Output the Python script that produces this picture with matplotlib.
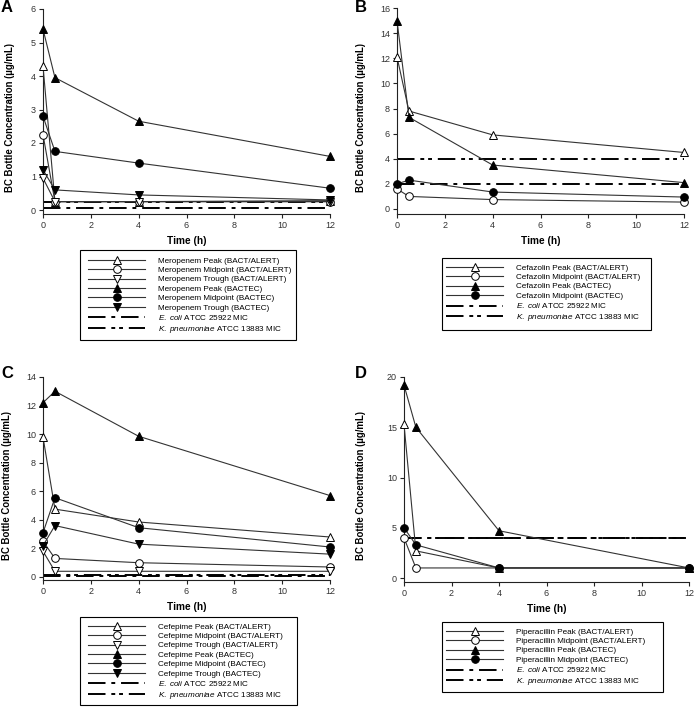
import matplotlib
matplotlib.use("Agg")
import matplotlib.pyplot as plt
from matplotlib.patches import Rectangle

plt.rcParams['font.family'] = ['Liberation Sans', 'DejaVu Sans']
plt.rcParams['mathtext.fontset'] = 'custom'
plt.rcParams['mathtext.it'] = 'Liberation Sans:italic'
plt.rcParams['mathtext.rm'] = 'Liberation Sans'

time = [0, 0.5, 4, 12]

# Panel A: Meropenem
mero_peak_ba = [4.3, 0.25, 0.25, 0.28]
mero_mid_ba = [2.25, 0.25, 0.25, 0.25]
mero_trough_ba = [0.95, 0.25, 0.25, 0.25]
mero_peak_bt = [5.4, 3.95, 2.65, 1.6]
mero_mid_bt = [2.8, 1.75, 1.4, 0.65]
mero_trough_bt = [1.2, 0.6, 0.45, 0.3]
mero_mic_ecoli = 0.06
mero_mic_kpn = 0.25

# Panel B: Cefazolin
cefa_peak_ba = [12.1, 7.8, 5.9, 4.5]
cefa_mid_ba = [1.6, 1.0, 0.75, 0.55]
cefa_peak_bt = [15.0, 7.3, 3.5, 2.1]
cefa_mid_bt = [2.0, 2.3, 1.35, 0.95]
cefa_mic_ecoli = 2
cefa_mic_kpn = 4

# Panel C: Cefepime
cefe_peak_ba = [9.8, 4.75, 3.85, 2.8]
cefe_mid_ba = [2.5, 1.3, 1.0, 0.7]
cefe_trough_ba = [1.8, 0.4, 0.4, 0.4]
cefe_peak_bt = [12.2, 13.0, 9.85, 5.7]
cefe_mid_bt = [3.1, 5.55, 3.45, 2.1]
cefe_trough_bt = [2.2, 3.6, 2.3, 1.6]
cefe_mic_ecoli = 0.06
cefe_mic_kpn = 0.125

# Panel D: Piperacillin
pip_peak_ba = [15.3, 2.7, 1.0, 1.0]
pip_mid_ba = [4.0, 1.0, 1.0, 1.0]
pip_peak_bt = [19.2, 15.0, 4.7, 1.0]
pip_mid_bt = [5.0, 3.3, 1.0, 1.0]
pip_mic_ecoli = 4
pip_mic_kpn = 4

ECOLI_LABEL = r'$\it{E.\ coli}$ ATCC 25922 MIC'
KPN_LABEL = r'$\it{K.\ pneumoniae}$ ATCC 13883 MIC'

W, H = 696, 724
fig = plt.figure(figsize=(W / 100, H / 100), dpi=100)


def make_ax(x0, x1, ytop_px, yzero_px, yspine_px, ymax, yticks, ylab_x_px, ylab_y_px):
    ax = fig.add_axes([x0 / W, 1 - yspine_px / H, (x1 - x0) / W, (yspine_px - ytop_px) / H])
    ppu = (yzero_px - ytop_px) / ymax
    lo = -(yspine_px - yzero_px) / ppu
    ax.set_xlim(0, 12)
    ax.set_ylim(lo, ymax)
    ax.spines['top'].set_visible(False)
    ax.spines['right'].set_visible(False)
    for s in ('left', 'bottom'):
        ax.spines[s].set_linewidth(0.8)
        ax.spines[s].set_color('#222222')
    ax.set_xticks([0, 2, 4, 6, 8, 10, 12])
    ax.set_yticks(yticks)
    ax.tick_params(direction='out', length=3, width=0.8, labelsize=6.5,
                   colors='#222222', labelcolor='#333333', pad=2)
    ax.set_xlabel('Time (h)', fontsize=7.3, fontweight='bold', labelpad=4)
    ax.set_ylabel('BC Bottle Concentration (µg/mL)', fontsize=6.9, fontweight='bold')
    # label anchor is the right side of the rotated text
    ax.yaxis.set_label_coords((ylab_x_px + 4.5 - x0) / (x1 - x0),
                              (yspine_px - ylab_y_px) / (yspine_px - ytop_px))
    return ax


series_style = dict(color='#333333', lw=0.8, markersize=5.5, markeredgewidth=0.7,
                    markeredgecolor='black', clip_on=False, zorder=3)


def plot_series(ax, y, marker, filled, label):
    ax.plot(time, y, marker=marker, markerfacecolor='black' if filled else 'white',
            label=label, **series_style)


def mic_lines(ax, ecoli, kpn):
    ax.axhline(ecoli, color='black', lw=1.4, dashes=(9, 3, 2, 3), label=ECOLI_LABEL, zorder=2)
    ax.axhline(kpn, color='black', lw=1.4, dashes=(9, 3, 2, 2, 2, 3), label=KPN_LABEL, zorder=2)


LEG_FS = 5.9


def add_legend(ax, box, first_row_top_px, handle_x_px):
    h, l = ax.get_legend_handles_labels()
    fig.legend(h, l, loc='upper left',
               bbox_to_anchor=(handle_x_px / W, 1 - first_row_top_px / H),
               fontsize=LEG_FS, frameon=False,
               handlelength=7.0, handletextpad=1.5, labelspacing=0.2,
               borderpad=0, borderaxespad=0)
    bx0, by0, bx1, by1 = box
    fig.patches.append(Rectangle((bx0 / W, 1 - by1 / H), (bx1 - bx0) / W, (by1 - by0) / H,
                                 transform=fig.transFigure, fill=False,
                                 edgecolor='black', lw=0.8))


# Panel A
axA = make_ax(43, 330, 9, 210, 214, 6, [0, 1, 2, 3, 4, 5, 6], 11, 117)
plot_series(axA, mero_peak_ba, '^', False, 'Meropenem Peak (BACT/ALERT)')
plot_series(axA, mero_mid_ba, 'o', False, 'Meropenem Midpoint (BACT/ALERT)')
plot_series(axA, mero_trough_ba, 'v', False, 'Meropenem Trough (BACT/ALERT)')
plot_series(axA, mero_peak_bt, '^', True, 'Meropenem Peak (BACTEC)')
plot_series(axA, mero_mid_bt, 'o', True, 'Meropenem Midpoint (BACTEC)')
plot_series(axA, mero_trough_bt, 'v', True, 'Meropenem Trough (BACTEC)')
mic_lines(axA, mero_mic_ecoli, mero_mic_kpn)
add_legend(axA, (80, 250, 296, 340), 257, 88)

# Panel B
axB = make_ax(397, 684, 8, 209, 214, 16, [0, 2, 4, 6, 8, 10, 12, 14, 16], 362, 117)
plot_series(axB, cefa_peak_ba, '^', False, 'Cefazolin Peak (BACT/ALERT)')
plot_series(axB, cefa_mid_ba, 'o', False, 'Cefazolin Midpoint (BACT/ALERT)')
plot_series(axB, cefa_peak_bt, '^', True, 'Cefazolin Peak (BACTEC)')
plot_series(axB, cefa_mid_bt, 'o', True, 'Cefazolin Midpoint (BACTEC)')
mic_lines(axB, cefa_mic_ecoli, cefa_mic_kpn)
add_legend(axB, (442, 258, 651, 330), 264, 446)

# Panel C
axC = make_ax(43, 330, 377, 577, 580, 14, [0, 2, 4, 6, 8, 10, 12, 14], 8, 485)
plot_series(axC, cefe_peak_ba, '^', False, 'Cefepime Peak (BACT/ALERT)')
plot_series(axC, cefe_mid_ba, 'o', False, 'Cefepime Midpoint (BACT/ALERT)')
plot_series(axC, cefe_trough_ba, 'v', False, 'Cefepime Trough (BACT/ALERT)')
plot_series(axC, cefe_peak_bt, '^', True, 'Cefepime Peak (BACTEC)')
plot_series(axC, cefe_mid_bt, 'o', True, 'Cefepime Midpoint (BACTEC)')
plot_series(axC, cefe_trough_bt, 'v', True, 'Cefepime Trough (BACTEC)')
mic_lines(axC, cefe_mic_ecoli, cefe_mic_kpn)
add_legend(axC, (80, 617, 297, 705), 623, 88)

# Panel D
axD = make_ax(404, 689, 377, 578, 582, 20, [0, 5, 10, 15, 20], 361, 486)
plot_series(axD, pip_peak_ba, '^', False, 'Piperacillin Peak (BACT/ALERT)')
plot_series(axD, pip_mid_ba, 'o', False, 'Piperacillin Midpoint (BACT/ALERT)')
plot_series(axD, pip_peak_bt, '^', True, 'Piperacillin Peak (BACTEC)')
plot_series(axD, pip_mid_bt, 'o', True, 'Piperacillin Midpoint (BACTEC)')
mic_lines(axD, pip_mic_ecoli, pip_mic_kpn)
add_legend(axD, (442, 622, 663, 692), 628, 446)

for letter, x, y in [('A', 1, 8), ('B', 355, 8), ('C', 1, 373), ('D', 355, 373)]:
    fig.text(x / W, 1 - y / H, letter, fontsize=12, fontweight='bold', va='center', ha='left')

fig.savefig('out.png', dpi=100)
